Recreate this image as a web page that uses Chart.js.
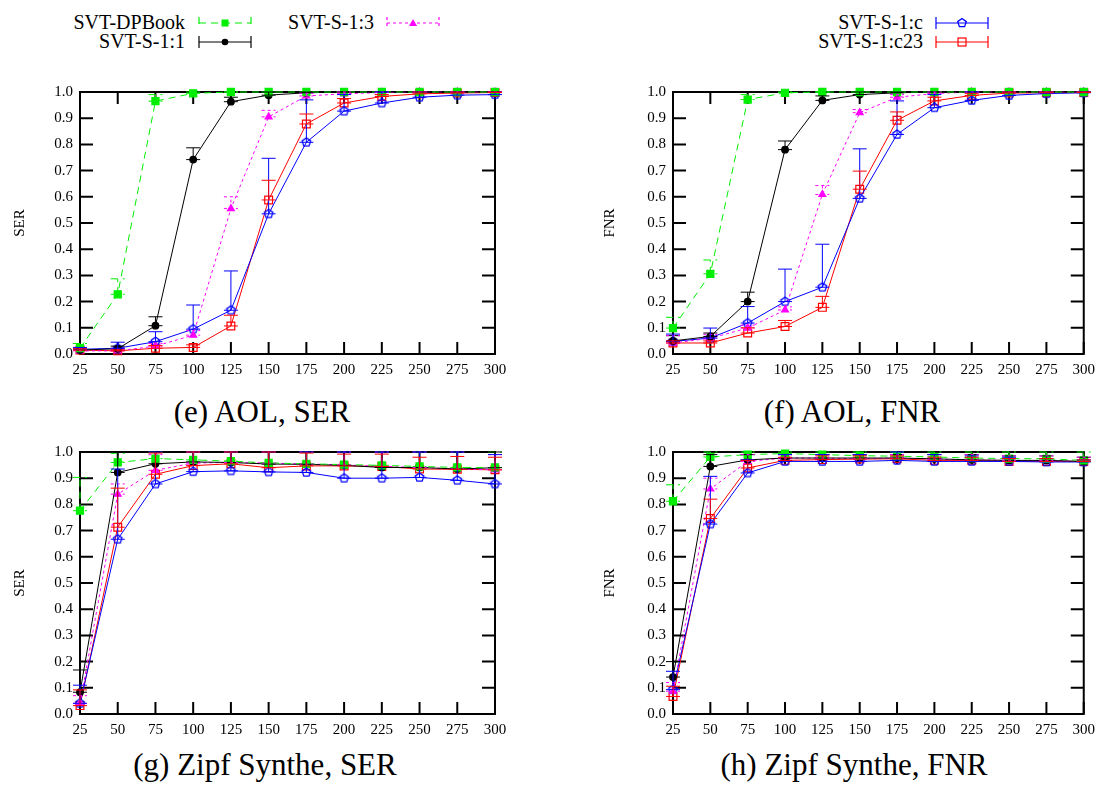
<!DOCTYPE html>
<html>
<head>
<meta charset="utf-8">
<title>SER / FNR</title>
<script src="https://cdn.jsdelivr.net/npm/chart.js@4.4.1/dist/chart.umd.min.js"></script>
<style>
  body { margin: 0; background: #fff; width: 1099px; height: 792px; position: relative; overflow: hidden; font-family: "Liberation Serif", "DejaVu Serif", serif; color: #000; }
  canvas { position: absolute; }
  .cap { position: absolute; width: 400px; font-size: 31px; line-height: 31px; text-align: center; white-space: nowrap; }
  .legText { position: absolute; font-size: 20px; line-height: 20px; text-align: right; white-space: nowrap; }
  .legSample { position: absolute; }
</style>
</head>
<body>

<canvas id="chartE" width="540" height="304" style="left:0px;top:76px"></canvas>
<canvas id="chartF" width="512" height="304" style="left:590px;top:76px"></canvas>
<canvas id="chartG" width="540" height="304" style="left:0px;top:436px"></canvas>
<canvas id="chartH" width="512" height="304" style="left:590px;top:436px"></canvas>

<div class="cap" style="left:62px;top:396px">(e) AOL, SER</div>
<div class="cap" style="left:652px;top:396px">(f) AOL, FNR</div>
<div class="cap" style="left:65px;top:749px">(g) Zipf Synthe, SER</div>
<div class="cap" style="left:654px;top:749px">(h) Zipf Synthe, FNR</div>

<div id="legend"></div>

<script>
// x values (threshold)
const xValues = [25, 50, 75, 100, 125, 150, 175, 200, 225, 250, 275, 300];
const seriesNames = ['SVT-DPBook', 'SVT-S-1:1', 'SVT-S-1:3', 'SVT-S-1:c', 'SVT-S-1:c23'];

// (e) AOL, SER  -- mean and upper end of error bar
const aolSerDp     = [0.022, 0.228, 0.965, 0.995, 1, 1, 1, 1, 1, 1, 1, 1];
const aolSerDpHi   = [0.04, 0.287, 0.99, 1, 1, 1, 1, 1, 1, 1, 1, 1];
const aolSerS11    = [0.015, 0.02, 0.108, 0.742, 0.963, 0.988, 0.997, 1, 1, 1, 1, 1];
const aolSerS11Hi  = [0.02, 0.03, 0.142, 0.787, 0.98, 1, 1, 1, 1, 1, 1, 1];
const aolSerS13    = [0.012, 0.012, 0.03, 0.072, 0.555, 0.905, 0.985, 0.993, 0.998, 1, 1, 1];
const aolSerS13Hi  = [0.02, 0.02, 0.04, 0.09, 0.6, 0.93, 0.995, 1, 1, 1, 1, 1];
const aolSerC      = [0.018, 0.022, 0.047, 0.095, 0.167, 0.535, 0.808, 0.927, 0.958, 0.98, 0.988, 0.99];
const aolSerCHi    = [0.025, 0.045, 0.085, 0.187, 0.317, 0.747, 0.97, 0.99, 1, 1, 1, 1];
const aolSerC23    = [0.015, 0.012, 0.022, 0.025, 0.107, 0.588, 0.878, 0.958, 0.983, 0.993, 0.996, 0.998];
const aolSerC23Hi  = [0.02, 0.016, 0.032, 0.035, 0.148, 0.663, 0.916, 0.975, 0.99, 1, 1, 1];

// (f) AOL, FNR
const aolFnrDp     = [0.099, 0.306, 0.971, 0.997, 1, 1, 1, 1, 1, 1, 1, 1];
const aolFnrDpHi   = [0.14, 0.359, 0.99, 1, 1, 1, 1, 1, 1, 1, 1, 1];
const aolFnrS11    = [0.05, 0.067, 0.2, 0.78, 0.968, 0.99, 0.997, 1, 1, 1, 1, 1];
const aolFnrS11Hi  = [0.07, 0.08, 0.236, 0.813, 0.985, 1, 1, 1, 1, 1, 1, 1];
const aolFnrS13    = [0.042, 0.06, 0.099, 0.168, 0.609, 0.921, 0.98, 0.994, 1, 1, 1, 1];
const aolFnrS13Hi  = [0.07, 0.075, 0.11, 0.18, 0.643, 0.933, 0.99, 1, 1, 1, 1, 1];
const aolFnrC      = [0.048, 0.061, 0.118, 0.2, 0.255, 0.594, 0.838, 0.94, 0.968, 0.987, 0.994, 0.997];
const aolFnrCHi    = [0.076, 0.099, 0.181, 0.324, 0.419, 0.783, 0.966, 0.99, 1, 1, 1, 1];
const aolFnrC23    = [0.042, 0.042, 0.08, 0.105, 0.178, 0.629, 0.892, 0.966, 0.987, 0.996, 0.997, 0.998];
const aolFnrC23Hi  = [0.05, 0.05, 0.1, 0.128, 0.22, 0.698, 0.924, 0.98, 0.995, 1, 1, 1];

// (g) Zipf Synthe, SER
const zipfSerDp    = [0.776, 0.96, 0.975, 0.97, 0.965, 0.958, 0.955, 0.952, 0.949, 0.945, 0.941, 0.941];
const zipfSerDpHi  = [0.903, 0.995, 1, 1, 1, 1, 1, 1, 1, 1, 1, 1];
const zipfSerS11   = [0.083, 0.922, 0.955, 0.962, 0.96, 0.954, 0.953, 0.949, 0.941, 0.941, 0.935, 0.94];
const zipfSerS11Hi = [0.168, 1, 1, 1, 1, 1, 1, 1, 1, 1, 1, 1];
const zipfSerS13   = [0.04, 0.839, 0.93, 0.958, 0.96, 0.958, 0.954, 0.951, 0.945, 0.941, 0.935, 0.932];
const zipfSerS13Hi = [0.07, 0.878, 0.99, 1, 1, 1, 1, 1, 1, 1, 1, 0.99];
const zipfSerC     = [0.041, 0.667, 0.878, 0.925, 0.928, 0.924, 0.922, 0.9, 0.9, 0.903, 0.892, 0.878];
const zipfSerCHi   = [0.11, 0.935, 1, 1, 1, 1, 1, 1, 1, 1, 1, 0.99];
const zipfSerC23   = [0.032, 0.713, 0.915, 0.948, 0.955, 0.94, 0.947, 0.947, 0.945, 0.935, 0.934, 0.932];
const zipfSerC23Hi = [0.092, 0.862, 0.996, 1, 1, 1, 0.996, 0.992, 0.992, 0.98, 0.983, 0.98];

// (h) Zipf Synthe, FNR
const zipfFnrDp    = [0.812, 0.981, 0.99, 0.994, 0.99, 0.986, 0.984, 0.981, 0.977, 0.975, 0.974, 0.968];
const zipfFnrDpHi  = [0.875, 1, 1, 1, 1, 1, 1, 1, 1, 1, 1, 1];
const zipfFnrS11   = [0.141, 0.945, 0.97, 0.977, 0.977, 0.977, 0.977, 0.974, 0.97, 0.968, 0.968, 0.964];
const zipfFnrS11Hi = [0.2, 0.99, 0.99, 0.99, 0.99, 0.99, 0.99, 0.99, 0.99, 0.985, 0.985, 0.98];
const zipfFnrS13   = [0.087, 0.859, 0.964, 0.977, 0.977, 0.974, 0.977, 0.973, 0.97, 0.968, 0.967, 0.964];
const zipfFnrS13Hi = [0.12, 0.9, 0.99, 0.99, 0.99, 0.99, 0.99, 0.99, 0.99, 0.985, 0.985, 0.98];
const zipfFnrC     = [0.093, 0.725, 0.92, 0.964, 0.964, 0.964, 0.968, 0.964, 0.964, 0.964, 0.962, 0.962];
const zipfFnrCHi   = [0.163, 0.907, 0.97, 0.99, 0.99, 0.99, 1, 0.99, 0.985, 0.98, 0.975, 0.97];
const zipfFnrC23   = [0.067, 0.746, 0.939, 0.968, 0.971, 0.973, 0.974, 0.968, 0.968, 0.964, 0.964, 0.964];
const zipfFnrC23Hi = [0.106, 0.82, 0.968, 0.98, 0.985, 0.985, 0.985, 0.98, 0.98, 0.975, 0.975, 0.97];

const FONT = '"Liberation Serif", "DejaVu Serif", serif';
Chart.defaults.font.family = FONT;
Chart.defaults.font.size = 15;
Chart.defaults.color = '#000';

// open pentagon marker for SVT-S-1:c
function pentagon(color, r) {
    const c = document.createElement('canvas');
    const s = Math.ceil(2 * r + 4);
    c.width = s; c.height = s;
    const g = c.getContext('2d');
    g.strokeStyle = color;
    g.lineWidth = 1.3;
    g.beginPath();
    for (let i = 0; i < 5; i++) {
        const a = -Math.PI / 2 + i * 2 * Math.PI / 5;
        const px = s / 2 + r * Math.cos(a), py = s / 2 + r * Math.sin(a);
        if (i) g.lineTo(px, py); else g.moveTo(px, py);
    }
    g.closePath();
    g.stroke();
    return c;
}

// look of each series
const styles = [
    { color: '#00ee00', dash: [7, 5], point: 'rect', radius: 5, fill: '#00ee00' },
    { color: '#000000', dash: [], point: 'circle', radius: 3.3, fill: '#000000' },
    { color: '#ff00ff', dash: [3, 3], point: 'triangle', radius: 4, fill: '#ff00ff' },
    { color: '#0000ff', dash: [], point: pentagon('#0000ff', 4.5), radius: 5, fill: 'rgba(0,0,0,0)' },
    { color: '#ff0000', dash: [], point: 'rect', radius: 5.5, fill: 'rgba(0,0,0,0)' }
];

// frame, inner ticks (both sides) and error bars, gnuplot style
const gnuFrame = {
    id: 'gnuFrame',
    beforeDatasetsDraw(chart) {
        const { ctx, chartArea: a, scales: { x, y } } = chart;
        ctx.save();
        ctx.strokeStyle = '#000';
        ctx.lineWidth = 2;
        ctx.strokeRect(a.left, a.top, a.right - a.left, a.bottom - a.top);
        ctx.beginPath();
        x.ticks.forEach(t => {
            const px = x.getPixelForValue(t.value);
            ctx.moveTo(px, a.bottom); ctx.lineTo(px, a.bottom - 12);
            ctx.moveTo(px, a.top); ctx.lineTo(px, a.top + 12);
        });
        y.ticks.forEach(t => {
            const py = y.getPixelForValue(t.value);
            ctx.moveTo(a.left, py); ctx.lineTo(a.left + 13, py);
            ctx.moveTo(a.right, py); ctx.lineTo(a.right - 13, py);
        });
        ctx.stroke();
        ctx.restore();
    },
    afterDatasetsDraw(chart) {
        const { ctx, scales: { y } } = chart;
        chart.data.datasets.forEach((ds, di) => {
            const meta = chart.getDatasetMeta(di);
            ctx.save();
            ctx.strokeStyle = ds.borderColor;
            ctx.lineWidth = 1;
            ctx.setLineDash(ds.borderDash || []);
            ctx.beginPath();
            meta.data.forEach((pt, i) => {
                const yh = y.getPixelForValue(ds.hi[i]);
                ctx.moveTo(pt.x, pt.y); ctx.lineTo(pt.x, yh);
                ctx.moveTo(pt.x - 7, yh); ctx.lineTo(pt.x + 7, yh);
                ctx.moveTo(pt.x - 7, pt.y); ctx.lineTo(pt.x + 7, pt.y);
            });
            ctx.stroke();
            ctx.restore();
        });
    }
};

function makePanel(id, yTitle, yAxisWidth, padRight, values, highs) {
    const datasets = values.map((v, k) => ({
        label: seriesNames[k],
        data: xValues.map((xv, i) => ({ x: xv, y: v[i] })),
        hi: highs[k],
        borderColor: styles[k].color,
        backgroundColor: styles[k].fill,
        borderDash: styles[k].dash,
        borderWidth: 1,
        pointStyle: styles[k].point,
        pointRadius: styles[k].radius,
        pointBorderColor: styles[k].color,
        pointBackgroundColor: styles[k].fill,
        pointBorderWidth: 1.2,
        tension: 0,
        clip: false
    }));

    new Chart(document.getElementById(id), {
        type: 'line',
        data: { datasets: datasets },
        options: {
            responsive: false,
            animation: false,
            layout: { padding: { top: 12, right: padRight, left: 0, bottom: 0 } },
            plugins: { legend: { display: false }, tooltip: { enabled: false } },
            scales: {
                x: {
                    type: 'linear',
                    min: 25,
                    max: 300,
                    grid: { display: false, drawTicks: false },
                    border: { display: false },
                    ticks: { stepSize: 25, padding: 7, color: '#000', font: { family: FONT, size: 15 }, maxRotation: 0 },
                    afterFit: s => { s.height = 26; }
                },
                y: {
                    min: 0,
                    max: 1,
                    grid: { display: false, drawTicks: false },
                    border: { display: false },
                    ticks: {
                        stepSize: 0.1,
                        padding: 7,
                        color: '#000',
                        font: { family: FONT, size: 15 },
                        callback: v => v.toFixed(1)
                    },
                    title: { display: true, text: yTitle, color: '#000', font: { family: FONT, size: 15 }, padding: { top: 11, bottom: 0 } },
                    afterFit: s => { s.width = yAxisWidth; }
                }
            }
        },
        plugins: [gnuFrame]
    });
}

makePanel('chartE', 'SER', 80, 45,
    [aolSerDp, aolSerS11, aolSerS13, aolSerC, aolSerC23],
    [aolSerDpHi, aolSerS11Hi, aolSerS13Hi, aolSerCHi, aolSerC23Hi]);
makePanel('chartF', 'FNR', 83, 14,
    [aolFnrDp, aolFnrS11, aolFnrS13, aolFnrC, aolFnrC23],
    [aolFnrDpHi, aolFnrS11Hi, aolFnrS13Hi, aolFnrCHi, aolFnrC23Hi]);
makePanel('chartG', 'SER', 80, 45,
    [zipfSerDp, zipfSerS11, zipfSerS13, zipfSerC, zipfSerC23],
    [zipfSerDpHi, zipfSerS11Hi, zipfSerS13Hi, zipfSerCHi, zipfSerC23Hi]);
makePanel('chartH', 'FNR', 83, 14,
    [zipfFnrDp, zipfFnrS11, zipfFnrS13, zipfFnrC, zipfFnrC23],
    [zipfFnrDpHi, zipfFnrS11Hi, zipfFnrS13Hi, zipfFnrCHi, zipfFnrC23Hi]);

// legend: text right-aligned, then a small sample with error-bar ends
const legendSpots = [
    { textRight: 185, top: 12, sx: 198, cy: 23 },
    { textRight: 185, top: 31, sx: 198, cy: 42 },
    { textRight: 374, top: 12, sx: 386, cy: 23 },
    { textRight: 923, top: 12, sx: 935, cy: 23 },
    { textRight: 923, top: 31, sx: 935, cy: 42 }
];

function markerSvg(k, cx, cy) {
    const st = styles[k];
    if (k === 0) return `<rect x="${cx - 3.5}" y="${cy - 3.5}" width="7" height="7" fill="${st.color}"/>`;
    if (k === 1) return `<circle cx="${cx}" cy="${cy}" r="3.3" fill="${st.color}"/>`;
    if (k === 2) return `<polygon points="${cx},${cy - 4} ${cx + 4},${cy + 3} ${cx - 4},${cy + 3}" fill="${st.color}"/>`;
    if (k === 3) {
        let pts = [];
        for (let i = 0; i < 5; i++) {
            const a = -Math.PI / 2 + i * 2 * Math.PI / 5;
            pts.push((cx + 4.5 * Math.cos(a)).toFixed(1) + ',' + (cy + 4.5 * Math.sin(a)).toFixed(1));
        }
        return `<polygon points="${pts.join(' ')}" fill="none" stroke="${st.color}" stroke-width="1.3"/>`;
    }
    return `<rect x="${cx - 4}" y="${cy - 4}" width="8" height="8" fill="none" stroke="${st.color}" stroke-width="1.2"/>`;
}

const legendBox = document.getElementById('legend');
seriesNames.forEach((name, k) => {
    const spot = legendSpots[k];
    const t = document.createElement('div');
    t.className = 'legText';
    t.style.left = (spot.textRight - 200) + 'px';
    t.style.width = '200px';
    t.style.top = spot.top + 'px';
    t.textContent = name;
    legendBox.appendChild(t);

    const st = styles[k];
    const dash = st.dash.length ? `stroke-dasharray="${st.dash.join(',')}"` : '';
    const w = 54, h = 16, mid = h / 2;
    const svg = `<svg class="legSample" width="${w}" height="${h}" style="left:${spot.sx}px;top:${spot.cy - mid}px">
      <g stroke="${st.color}" stroke-width="1.2" ${dash} fill="none">
        <line x1="1" y1="${mid}" x2="${w - 1}" y2="${mid}"/>
        <line x1="1" y1="2" x2="1" y2="${h - 2}"/>
        <line x1="${w - 1}" y1="2" x2="${w - 1}" y2="${h - 2}"/>
      </g>
      ${markerSvg(k, w / 2, mid)}
    </svg>`;
    legendBox.insertAdjacentHTML('beforeend', svg);
});
</script>
</body>
</html>
